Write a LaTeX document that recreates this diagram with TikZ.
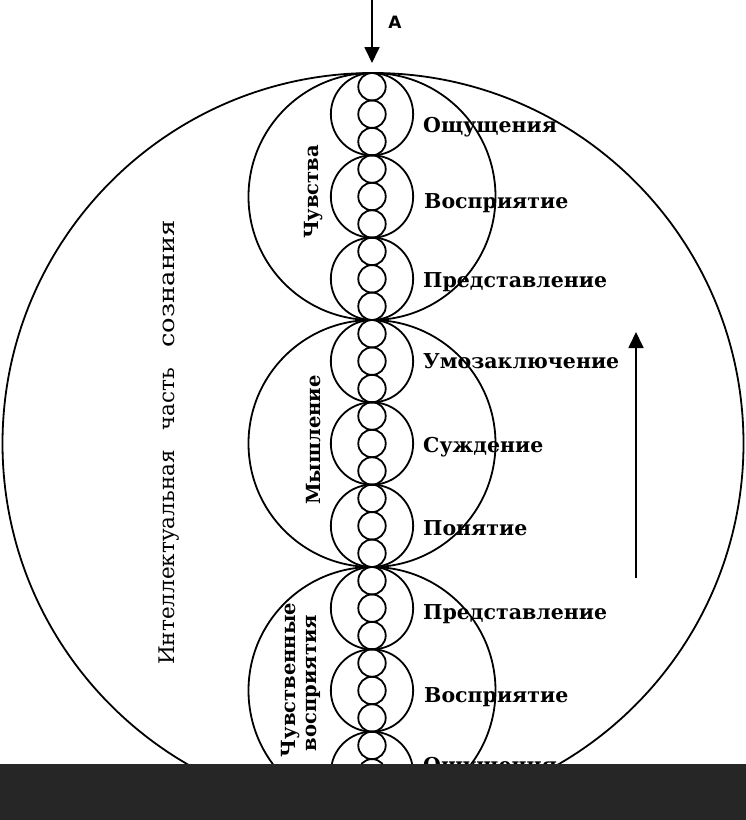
\documentclass[tikz,border=0pt]{standalone}
\usepackage{fontspec}
\setmainfont{DejaVu Serif}
\newfontfamily\labelsans{DejaVu Sans}
\usetikzlibrary{arrows.meta}
\definecolor{barcol}{HTML}{262626}
\begin{document}
\begin{tikzpicture}[x=1pt,y=-1pt,
  ring/.style={circle,draw=black,line width=1.8pt,inner sep=0pt,outer sep=0pt},
  bigring/.style={ring,minimum size=741pt},
  groupring/.style={ring,minimum size=247pt},
  smallring/.style={ring,minimum size=82.33pt},
  tinyring/.style={ring,minimum size=27.44pt},
  lab/.style={inner sep=0pt,anchor=base west,font=\bfseries\fontsize{20.5}{24}\selectfont},
  vlab/.style={inner sep=0pt,rotate=90,anchor=base,font=\bfseries\fontsize{19.5}{24}\selectfont},
  arr/.style={line width=1.8pt,-{Triangle[length=16pt,width=15pt]}}
]
\useasboundingbox (0,0) rectangle (746,820);
\fill[white] (0,0) rectangle (746,820);
% big circle
\node[bigring] (big) at (373,443.5) {};
% group circles
\foreach \g in {0,1,2} \node[groupring] (g\g) at (372,{73+247*(\g+0.5)}) {};
% small circles
\foreach \s in {0,...,8} \node[smallring] (s\s) at (372,{73+82.333*(\s+0.5)}) {};
% tiny circles
\foreach \t in {0,...,26} \node[tinyring] (t\t) at (372,{73+27.444*(\t+0.5)}) {};
% right labels
\node[lab] (l0) at (423,132) {Ощущения};
\node[lab] (l1) at (424,208) {Восприятие};
\node[lab] (l2) at (423,287.5) {Представление};
\node[lab] (l3) at (423,368) {Умозаключение};
\node[lab] (l4) at (423,452) {Суждение};
\node[lab] (l5) at (423,535) {Понятие};
\node[lab] (l6) at (423,619) {Представление};
\node[lab] (l7) at (424,702) {Восприятие};
\node[lab] (l8) at (423,772) {Ощущения};
% vertical labels
\node[vlab] (v0) at (318,192) {Чувства};
\node[vlab] (v1) at (320,440) {Мышление};
\node[vlab] (v2a) at (295,680) {Чувственные};
\node[vlab] (v2b) at (316,683) {восприятия};
\node[vlab,anchor=base west,font=\fontsize{21.5}{24}\selectfont] (intel) at (174,665)
  {Интеллектуальная\hspace{20pt}часть\hspace{20pt}\scalebox{1.2}[1]{сознания}};
% arrow A
\coordinate (Astart) at (372,0);
\coordinate (Aend) at (372,63);
\draw[arr] (Astart) -- (Aend);
\node[inner sep=0pt,font=\labelsans\bfseries\fontsize{17}{20}\selectfont] (Alab) at (395,22) {А};
% right arrow
\coordinate (Rstart) at (636,578);
\coordinate (Rend) at (636,332);
\draw[arr] (Rstart) -- (Rend);
% dark bar
\fill[barcol] (0,763.5) rectangle (746,820);
\end{tikzpicture}
\end{document}
